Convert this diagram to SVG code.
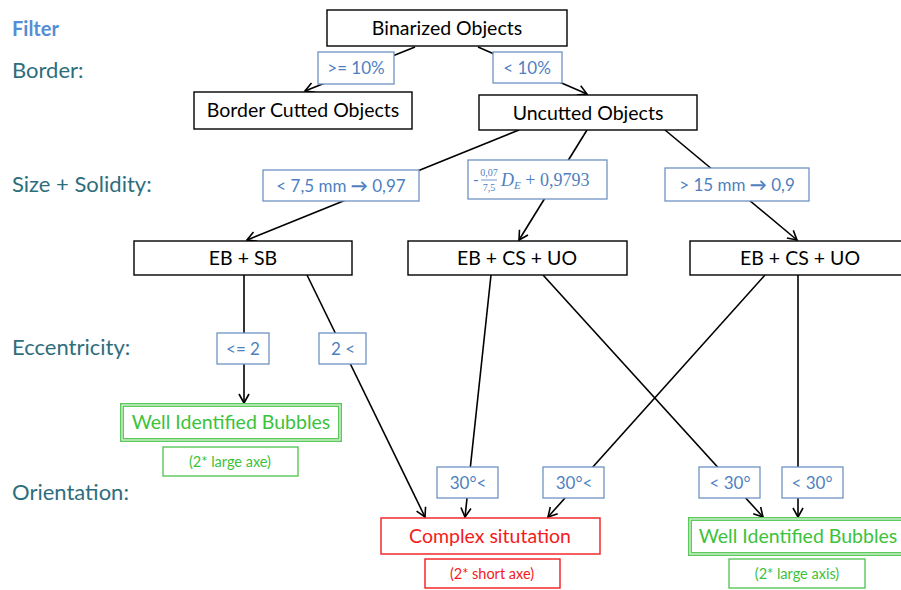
<svg xmlns="http://www.w3.org/2000/svg" width="901" height="590" viewBox="0 0 901 590">
<defs>
<marker id="arr" markerWidth="12" markerHeight="12" refX="10" refY="6" orient="auto" markerUnits="userSpaceOnUse">
<path d="M1,1 L10,6 L1,11" fill="none" stroke="#000" stroke-width="1.6"/>
</marker>
<style>
text{font-family:Lato,"Open Sans","Liberation Sans",sans-serif;}
.node{fill:#fff;stroke:#000;stroke-width:1.4;}
.nt{font-size:19.5px;fill:#000;text-anchor:middle;}
.lab{fill:#fff;stroke:#6F93C4;stroke-width:1.3;}
.lt{font-size:17px;fill:#4F7FBF;text-anchor:middle;}
.side{font-size:22px;fill:#2E6E7C;}
.gbox{fill:#fff;stroke:#5CCB5C;stroke-width:4;}
.gin{fill:none;stroke:#fff;stroke-width:1;}
.gt{font-size:19.5px;fill:#3CC23C;text-anchor:middle;}
.gs{fill:#fff;stroke:#4CC24C;stroke-width:1.3;}
.gst{font-size:14.5px;fill:#3CC23C;text-anchor:middle;}
.rbox{fill:#fff;stroke:#F21C1C;stroke-width:1.4;}
.rt{font-size:19.5px;fill:#F21C1C;text-anchor:middle;}
.rst{font-size:14.5px;fill:#F21C1C;text-anchor:middle;}
.ca{stroke:#000;stroke-width:1.6;fill:none;marker-end:url(#arr);}
</style>
</defs>
<rect width="901" height="590" fill="#fff"/>

<g id="side-labels">
<text x="12" y="36" style="font-size:20px;font-weight:bold;fill:#558ED5">Filter</text>
<text x="12" y="78" class="side">Border:</text>
<text x="12" y="192" class="side">Size + Solidity:</text>
<text x="12" y="355" class="side">Eccentricity:</text>
<text x="12" y="500" class="side">Orientation:</text>
</g>

<g id="connectors">
<line class="ca" x1="415" y1="47" x2="305" y2="91"/>
<line class="ca" x1="478" y1="47" x2="587" y2="94"/>
<line class="ca" x1="519" y1="130" x2="247" y2="240"/>
<line class="ca" x1="587" y1="130" x2="519" y2="240"/>
<line class="ca" x1="665" y1="130" x2="797" y2="240"/>
<line class="ca" x1="244" y1="275" x2="244" y2="403"/>
<line class="ca" x1="307" y1="275" x2="425" y2="517"/>
<line class="ca" x1="491" y1="275" x2="465" y2="517"/>
<line class="ca" x1="543" y1="275" x2="763" y2="517"/>
<line class="ca" x1="765" y1="275" x2="548" y2="517"/>
<line class="ca" x1="798" y1="275" x2="798" y2="517"/>
</g>

<g id="edge-labels">
<g id="l-ge10"><rect class="lab" x="318" y="52" width="76" height="32"/><text class="lt" x="356" y="74">&gt;= 10%</text></g>
<g id="l-lt10"><rect class="lab" x="493" y="52" width="69" height="31"/><text class="lt" x="527" y="74">&lt; 10%</text></g>
<g id="l-small"><rect class="lab" x="263" y="170" width="156" height="31"/><text class="lt" x="341" y="192">&lt; 7,5 mm <tspan font-weight="bold">→</tspan> 0,97</text></g>
<g id="l-formula"><rect class="lab" x="468" y="160" width="139" height="39"/>
<text x="473" y="185" style="font-size:16px;fill:#4F7FBF">-</text>
<text x="489" y="176" style="font-family:'Liberation Serif',serif;font-size:10px;fill:#4F7FBF;text-anchor:middle">0,07</text>
<line x1="481" y1="180" x2="497" y2="180" stroke="#4F7FBF" stroke-width="0.8"/>
<text x="489" y="191" style="font-family:'Liberation Serif',serif;font-size:10px;fill:#4F7FBF;text-anchor:middle">7,5</text>
<text x="501" y="186" style="font-family:'Liberation Serif',serif;font-size:18px;fill:#4F7FBF"><tspan font-style="italic">D</tspan><tspan font-style="italic" font-size="11" dy="3">E</tspan><tspan dy="-3"> + 0,9793</tspan></text>
</g>
<g id="l-large"><rect class="lab" x="665" y="168" width="144" height="33"/><text class="lt" x="737" y="191">&gt; 15 mm <tspan font-weight="bold">→</tspan> 0,9</text></g>
<g id="l-le2"><rect class="lab" x="217" y="333" width="52" height="31"/><text class="lt" x="243" y="355">&lt;= 2</text></g>
<g id="l-gt2"><rect class="lab" x="319" y="333" width="47" height="31"/><text class="lt" x="343" y="355">2 &lt;</text></g>
<g id="l-o1"><rect class="lab" x="437" y="467" width="61" height="31"/><text class="lt" x="468" y="489">30°&lt;</text></g>
<g id="l-o2"><rect class="lab" x="543" y="467" width="61" height="31"/><text class="lt" x="574" y="489">30°&lt;</text></g>
<g id="l-o3"><rect class="lab" x="699" y="467" width="61" height="31"/><text class="lt" x="730" y="489">&lt; 30°</text></g>
<g id="l-o4"><rect class="lab" x="782" y="467" width="61" height="31"/><text class="lt" x="812" y="489">&lt; 30°</text></g>
</g>

<g id="n-binarized"><rect class="node" x="327" y="10" width="240" height="36"/><text class="nt" x="447" y="35">Binarized Objects</text></g>
<g id="n-border"><rect class="node" x="194" y="92" width="218" height="37"/><text class="nt" x="303" y="117">Border Cutted Objects</text></g>
<g id="n-uncutted"><rect class="node" x="479" y="95" width="218" height="35"/><text class="nt" x="588" y="120">Uncutted Objects</text></g>
<g id="n-ebsb"><rect class="node" x="134" y="241" width="218" height="34"/><text class="nt" x="243" y="265">EB + SB</text></g>
<g id="n-ebcsuo1"><rect class="node" x="408" y="241" width="219" height="34"/><text class="nt" x="517" y="265">EB + CS + UO</text></g>
<g id="n-ebcsuo2"><rect class="node" x="690" y="241" width="212" height="34"/><text class="nt" x="800" y="265">EB + CS + UO</text></g>

<g id="n-well1"><rect class="gbox" x="122" y="405" width="218" height="35"/><rect class="gin" x="122" y="405" width="218" height="35"/><text class="gt" x="231" y="429">Well Identified Bubbles</text></g>
<g id="n-well1-note"><rect class="gs" x="163" y="447" width="135" height="29"/><text class="gst" x="230" y="467">(2* large axe)</text></g>
<g id="n-complex"><rect class="rbox" x="381" y="518" width="219" height="36"/><text class="rt" x="490" y="543">Complex situtation</text></g>
<g id="n-complex-note"><rect class="rbox" x="425" y="559" width="135" height="29"/><text class="rst" x="492" y="579">(2* short axe)</text></g>
<g id="n-well2"><rect class="gbox" x="690" y="519" width="214" height="35"/><rect class="gin" x="690" y="519" width="214" height="35"/><text class="gt" x="798" y="543">Well Identified Bubbles</text></g>
<g id="n-well2-note"><rect class="gs" x="729" y="559" width="136" height="29"/><text class="gst" x="797" y="579">(2* large axis)</text></g>
</svg>
